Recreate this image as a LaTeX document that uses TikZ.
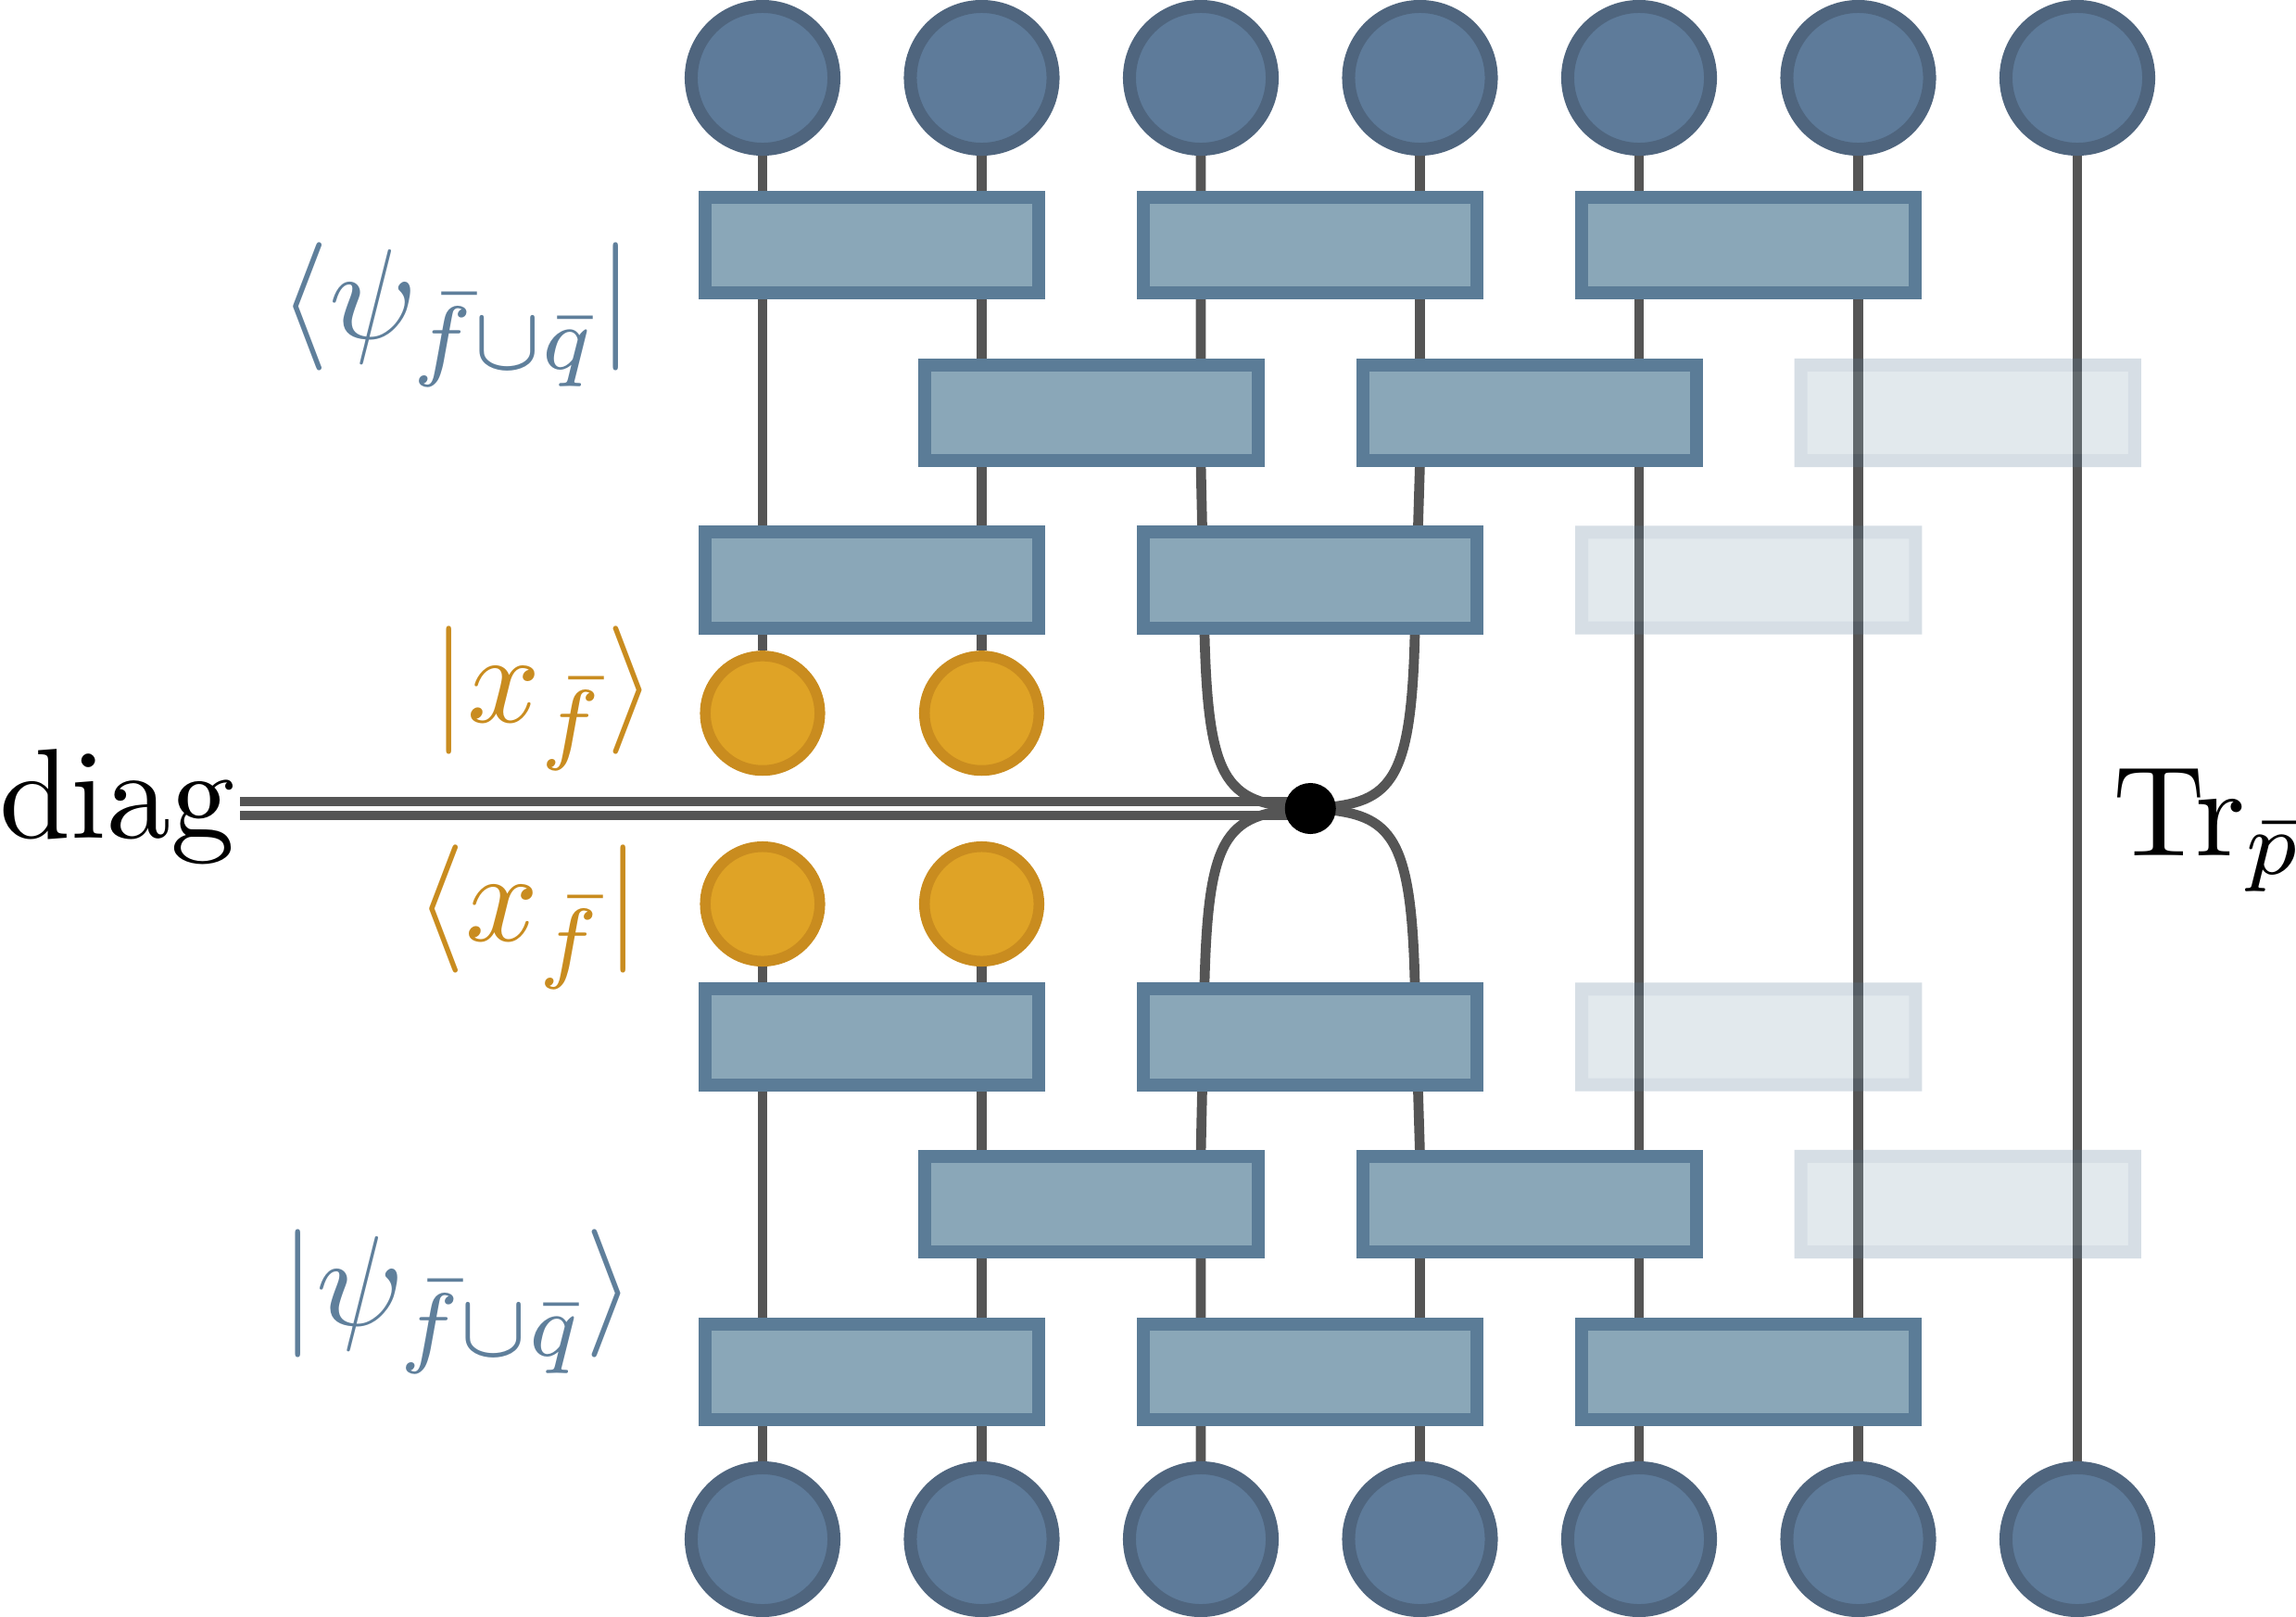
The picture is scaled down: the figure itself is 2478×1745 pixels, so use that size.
\documentclass[tikz,border=0pt]{standalone}
\definecolor{wirec}{HTML}{555555}
\definecolor{circf}{HTML}{5E7B9A}
\definecolor{circs}{HTML}{4F657E}
\definecolor{boxf}{HTML}{8AA7B8}
\definecolor{boxs}{HTML}{5B7C97}
\definecolor{orf}{HTML}{DFA326}
\definecolor{ors}{HTML}{C98C1F}
\definecolor{txtb}{HTML}{5F7F9B}
\pgfdeclarelayer{bg}
\pgfsetlayers{bg,main}
\begin{document}
\begin{tikzpicture}[x=0.01cm,y=-0.01cm,
 wire/.style={draw=wirec,line width=0.107cm},
 dbl/.style={draw=wirec,line width=0.1cm,double=white,double distance=0.045cm},
 qc/.style={circle,draw=circs,fill=circf,line width=0.14cm,minimum size=1.54cm,inner sep=0},
 oc/.style={circle,draw=ors,fill=orf,line width=0.115cm,minimum size=1.235cm,inner sep=0},
 gate/.style={rectangle,draw=boxs,fill=boxf,line width=0.14cm,minimum width=3.6cm,minimum height=1.03cm,inner sep=0},
 lbl/.style={inner sep=0,anchor=base west,scale=3.93}]
\useasboundingbox (0,0) rectangle (2478,1745);
% qubit circles
\foreach \i in {1,...,7} {
  \node[qc] (t\i) at ({823+236.5*(\i-1)},84) {};
  \node[qc] (b\i) at ({823+236.5*(\i-1)},1661) {};
}
% orange circles
\node[oc] (xu1) at (823,769.7) {};
\node[oc] (xu2) at (1059.5,769.7) {};
\node[oc] (xd1) at (823,975.5) {};
\node[oc] (xd2) at (1059.5,975.5) {};
% gates
\node[gate] (g1a) at (941.25,264.5) {};
\node[gate] (g1b) at (1414.25,264.5) {};
\node[gate] (g1c) at (1887.25,264.5) {};
\node[gate] (g2a) at (1177.75,445.5) {};
\node[gate] (g2b) at (1650.75,445.5) {};
\node[gate] (g3a) at (941.25,626) {};
\node[gate] (g3b) at (1414.25,626) {};
\node[gate] (g4a) at (941.25,1119) {};
\node[gate] (g4b) at (1414.25,1119) {};
\node[gate] (g5a) at (1177.75,1299.5) {};
\node[gate] (g5b) at (1650.75,1299.5) {};
\node[gate] (g6a) at (941.25,1480.5) {};
\node[gate] (g6b) at (1414.25,1480.5) {};
\node[gate] (g6c) at (1887.25,1480.5) {};
\begin{scope}[transparency group,opacity=0.25]
\node[gate] (f2) at (2123.75,445.5) {};
\node[gate] (f3) at (1887.25,626) {};
\node[gate] (f4) at (1887.25,1119) {};
\node[gate] (f5) at (2123.75,1299.5) {};
\end{scope}
% contraction dot
\node[circle,fill=black,minimum size=0.55cm,inner sep=0] (dot) at (1414.25,872.5) {};
% labels
\node[lbl,text=txtb] (lpsiu) at (299,365) {$\langle\psi_{\bar f\cup\bar q}|$};
\node[lbl,text=ors] (lxu) at (463,779.5) {$|x_{\bar f}\rangle$};
\node[lbl,text=ors] (lxd) at (446,1015.5) {$\langle x_{\bar f}|$};
\node[lbl,text=txtb] (lpsid) at (300,1430) {$|\psi_{\bar f\cup\bar q}\rangle$};
\node[lbl] (ldiag) at (-3,904) {diag};
\node[lbl] (ltr) at (2278,923) {$\mathrm{Tr}_{\bar p}$};
% bend points
\coordinate (dstart) at (259,872.5);
\coordinate (k3a) at (1296,500);
\coordinate (k3b) at (1300,684);
\coordinate (k4a) at (1532.5,500);
\coordinate (k4b) at (1527,684);
\coordinate (k3c) at (1300,1061);
\coordinate (k3d) at (1296,1245);
\coordinate (k4c) at (1527,1061);
\coordinate (k4d) at (1532.5,1245);
\begin{pgfonlayer}{bg}
\draw[dbl] (dstart) -- (dot.center);
\draw[wire] (t1) -- (xu1);
\draw[wire] (t2) -- (xu2);
\draw[wire] (xd1) -- (b1);
\draw[wire] (xd2) -- (b2);
\draw[wire] (t5) -- (b5);
\draw[wire] (t6) -- (b6);
\draw[wire] (t7) -- (b7);
\draw[wire] (t3.center) -- (k3a) -- (k3b) .. controls (1304,850) and (1325,868) .. (dot.center);
\draw[wire] (t4.center) -- (k4a) -- (k4b) .. controls (1523,850) and (1500,868) .. (dot.center);
\draw[wire] (b3.center) -- (k3d) -- (k3c) .. controls (1304,895) and (1325,877) .. (dot.center);
\draw[wire] (b4.center) -- (k4d) -- (k4c) .. controls (1523,895) and (1500,877) .. (dot.center);
\end{pgfonlayer}
\end{tikzpicture}
\end{document}
